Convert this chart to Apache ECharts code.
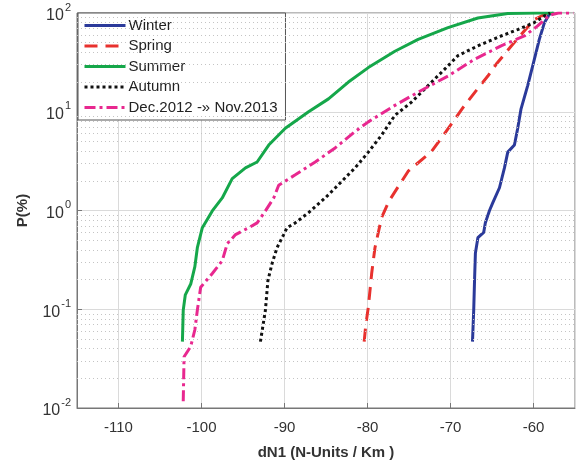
<!DOCTYPE html>
<html>
<head>
<meta charset="utf-8">
<script src="https://cdn.jsdelivr.net/npm/echarts@6/dist/echarts.min.js"></script>
<style>
  html, body { margin: 0; padding: 0; background: #fff; }
  #chart { width: 577px; height: 465px; }
</style>
</head>
<body>
<div id="chart"></div>
<script>
// series names, in legend order
var seriesNames = ['Winter', 'Spring', 'Summer', 'Autumn', 'Dec.2012 -» Nov.2013']

// [dN1, P(%)]
var winter = [
  [-67.35, 0.047], [-67.2, 0.1], [-67.1, 0.2], [-67.0, 0.37], [-66.7, 0.53],
  [-66.0, 0.6], [-65.8, 0.75], [-65.3, 1.0], [-64.9, 1.2], [-64.1, 1.7],
  [-63.5, 2.7], [-63.1, 3.9], [-62.3, 4.6], [-61.9, 6.8], [-61.5, 10.7],
  [-60.7, 18.4], [-59.9, 34], [-59.3, 54], [-58.7, 79], [-58.1, 97], [-57.6, 100]
]
var spring = [
  [-80.4, 0.047], [-80.2, 0.07], [-79.9, 0.105], [-79.5, 0.23], [-79.1, 0.42],
  [-78.3, 0.85], [-77.4, 1.25], [-75.1, 2.5], [-72.3, 3.95], [-71.1, 5.4],
  [-69.9, 7.5], [-68.5, 11], [-67.0, 16], [-65.5, 23], [-64.4, 31],
  [-62.7, 46], [-61.3, 63], [-59.9, 86], [-58.3, 100]
]
var summer = [
  [-102.3, 0.047], [-102.2, 0.098], [-101.95, 0.14], [-101.3, 0.18], [-100.8, 0.27],
  [-100.5, 0.42], [-99.9, 0.67], [-98.7, 0.99], [-97.5, 1.34], [-96.3, 2.1],
  [-94.7, 2.7], [-93.3, 3.1], [-91.9, 4.6], [-89.9, 6.8], [-87.1, 10],
  [-84.7, 13.5], [-82.3, 20], [-79.9, 28], [-76.7, 41], [-73.9, 54],
  [-70.3, 71], [-66.7, 89], [-63.1, 99], [-59.5, 100], [-57.5, 100]
]
var autumn = [
  [-92.9, 0.047], [-92.3, 0.098], [-92.0, 0.195], [-91.5, 0.29], [-90.9, 0.42],
  [-90.1, 0.57], [-89.7, 0.67], [-88.7, 0.75], [-87.1, 0.95], [-85.1, 1.34],
  [-83.9, 1.69], [-81.5, 2.7], [-79.9, 3.9], [-78.3, 5.8], [-76.7, 9.2],
  [-74.7, 12.5], [-72.7, 18.4], [-70.7, 27], [-69.1, 37], [-66.7, 46.5],
  [-63.9, 58.5], [-61.9, 68], [-59.9, 80], [-58.7, 93], [-58.0, 100]
]
var yearAll = [
  [-102.2, 0.0117], [-102.1, 0.033], [-101.3, 0.042], [-100.8, 0.062], [-100.5, 0.098],
  [-100.1, 0.167], [-98.7, 0.23], [-97.5, 0.31], [-96.9, 0.46], [-95.9, 0.57],
  [-94.3, 0.67], [-93.3, 0.75], [-92.3, 0.99], [-91.3, 1.34], [-90.7, 1.8],
  [-88.7, 2.3], [-86.3, 3.1], [-83.9, 4.3], [-81.5, 6.3], [-79.9, 7.9],
  [-76.7, 11.6], [-73.9, 15.8], [-70.3, 23], [-67.1, 34], [-63.9, 46.5],
  [-61.1, 58.5], [-59.5, 74], [-58.1, 95], [-57.0, 100], [-55.2, 100]
]

var seriesData = [winter, spring, summer, autumn, yearAll]
var colors = ['#2b3a9a', '#e8312e', '#15a74a', '#111111', '#e8288f']
var dashes = ['solid', [13, 8], 'solid', [3, 3], [11, 4, 3, 4]]

// minor log grid lines: 2..9 in each decade
var minorLines = []
for (var d = -2; d < 2; d++) {
  for (var m = 2; m <= 9; m++) {
    minorLines.push({ yAxis: m * Math.pow(10, d) })
  }
}

var myChart = echarts.init(document.getElementById('chart'))

var series = seriesData.map(function (data, i) {
  return {
    name: seriesNames[i],
    type: 'line',
    data: data,
    symbol: 'none',
    showSymbol: false,
    z: 3 + i,
    lineStyle: { color: colors[i], width: 3, type: dashes[i] },
    itemStyle: { color: colors[i] }
  }
})
// dotted minor grid
series.push({
  type: 'line',
  data: [],
  silent: true,
  z: 1,
  markLine: {
    silent: true,
    symbol: 'none',
    label: { show: false },
    lineStyle: { color: '#c4c4c4', width: 1, type: [1, 3] },
    data: minorLines
  }
})

var option = {
  animation: false,
  textStyle: { fontFamily: 'Liberation Sans' },
  grid: {
    left: 77, right: 2, top: 13, bottom: 54,
    show: true, borderColor: '#777', borderWidth: 1
  },
  legend: {
    data: seriesNames,
    orient: 'vertical',
    left: 78, top: 13,
    padding: [5, 8, 5, 5],
    itemWidth: 41, itemHeight: 12, itemGap: 5.5,
    backgroundColor: '#fff',
    borderColor: '#555', borderWidth: 1, borderRadius: 0,
    itemStyle: { opacity: 0 },
    lineStyle: { width: 3 },
    textStyle: { fontSize: 15, color: '#222', padding: [0, 0, 0, -2] }
  },
  xAxis: {
    type: 'value',
    min: -115, max: -55,
    splitNumber: 6,
    name: 'dN1 (N-Units / Km )',
    nameLocation: 'middle',
    nameGap: 37,
    nameTextStyle: { fontSize: 15, fontWeight: 'bold', color: '#333' },
    axisLine: { show: true, lineStyle: { color: '#777' } },
    axisTick: { inside: true, length: 5, lineStyle: { color: '#777' } },
    axisLabel: {
      fontSize: 15, color: '#333', margin: 12,
      showMinLabel: false, showMaxLabel: false,
      formatter: function (v) { return v % 10 === 0 ? String(v) : '' }
    },
    splitLine: { show: true, lineStyle: { color: '#dadada' } }
  },
  yAxis: {
    type: 'log',
    logBase: 10,
    min: 0.01, max: 100,
    name: 'P(%)',
    nameLocation: 'middle',
    nameGap: 47,
    nameTextStyle: { fontSize: 15, fontWeight: 'bold', color: '#333' },
    axisLine: { show: true, lineStyle: { color: '#777' } },
    axisTick: { inside: true, length: 5, lineStyle: { color: '#777' } },
    axisLabel: {
      margin: 6,
      formatter: function (v) {
        var e = Math.round(Math.log10(v))
        return '{b|10}{e|' + e + '}'
      },
      rich: {
        b: { fontSize: 16, color: '#333', lineHeight: 22, verticalAlign: 'bottom' },
        e: { fontSize: 11, color: '#333', lineHeight: 22, verticalAlign: 'top', padding: [0, 0, 0, 1] }
      }
    },
    splitLine: { show: true, lineStyle: { color: '#dadada' } }
  },
  series: series
}

myChart.setOption(option)
</script>
</body>
</html>
